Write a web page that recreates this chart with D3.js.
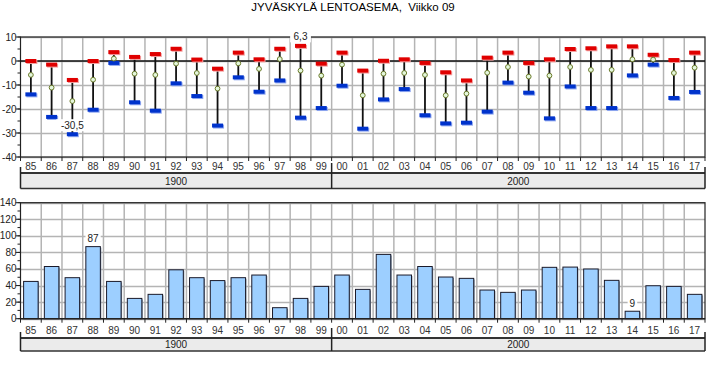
<!DOCTYPE html>
<html>
<head>
<meta charset="utf-8">
<script src="https://cdn.jsdelivr.net/npm/d3@7/dist/d3.min.js"></script>
<style>
html,body{margin:0;padding:0;background:#fff;}
svg{display:block;font-family:"Liberation Sans",Arial,sans-serif;}
</style>
</head>
<body>
<svg id="chart" width="728" height="368"></svg>
<script>
// ---- data ----
const title = "JYVÄSKYLÄ LENTOASEMA,  Viikko 09";
const years = ["85","86","87","88","89","90","91","92","93","94","95","96","97","98","99",
               "00","01","02","03","04","05","06","07","08","09","10","11","12","13","14","15","16","17"];
const groupLabels = ["1900","2000"];
const groupSizes = [15,18];
const tempMax = [0.0,-1.5,-7.9,0.0,3.7,1.7,2.9,5.1,0.6,-3.2,3.5,0.7,5.1,6.3,-1.1,
                 3.5,-4.0,0.1,0.7,-0.8,-4.7,-8.1,1.4,3.5,-0.8,0.7,5.0,5.3,6.1,6.1,2.6,0.4,3.5];
const tempMean = [-5.8,-11.1,-16.7,-7.8,1.0,-5.3,-5.8,-1.1,-5.0,-11.5,-1.0,-3.3,0.8,-4.0,-6.1,
                  -1.5,-14.3,-5.3,-5.0,-5.8,-14.3,-13.6,-4.9,-2.5,-6.5,-6.1,-2.5,-3.7,-3.7,0.7,0.6,-5.0,-2.8];
const tempMin = [-13.9,-23.3,-30.5,-20.3,-0.8,-17.2,-20.7,-9.3,-14.6,-26.9,-6.8,-12.8,-8.1,-23.6,-19.6,
                 -10.3,-28.2,-16.0,-11.7,-22.6,-26.0,-25.7,-21.1,-9.0,-13.2,-23.9,-10.6,-19.6,-19.6,-6.0,-1.5,-15.4,-12.9];
const precip = [45,63,49.5,87,45,24.5,29.4,59,49.5,46,49.5,52.7,13.3,24.5,39,
                52.7,35.4,77.6,52.7,63,50.3,48.7,34.6,31.8,34.6,62,62.3,60,46.3,9,39.8,39,29.4];
const tempTicks = [10,0,-10,-20,-30,-40];
const precipTicks = [0,20,40,60,80,100,120,140];

// ---- layout ----
const svg = d3.select("#chart");
const L = 20.5, R = 705;
const x = d3.scaleBand().domain(years).range([L, R]).padding(0);
const bw = x.bandwidth();
const yT = d3.scaleLinear().domain([-40, 10]).range([157, 37]);
const yP = d3.scaleLinear().domain([0, 140]).range([318.7, 202.7]);
const fmt = v => String(v).replace(".", ",");
const gridCol = "#b4b4b4";

svg.append("text").attr("x", 353).attr("y", 11).attr("text-anchor", "middle")
  .style("font-size", "11.5px").style("white-space", "pre").attr("fill", "#000").text(title);

function panel(y, ticks, minorStep, labelY, boxTop, boxBot, groupLineTop) {
  const g = svg.append("g");
  const [y0, y1] = y.range();
  // grid horizontal
  g.selectAll(".hg").data(ticks).join("line")
    .attr("x1", L).attr("x2", R).attr("y1", d => Math.round(y(d)) + 0.5).attr("y2", d => Math.round(y(d)) + 0.5)
    .attr("stroke", gridCol).attr("stroke-width", 1.5);
  // grid vertical
  g.selectAll(".vg").data(years.slice(1)).join("line")
    .attr("x1", d => x(d)).attr("x2", d => x(d)).attr("y1", y1).attr("y2", y0)
    .attr("stroke", gridCol).attr("stroke-width", 1.5);
  // frame
  g.append("rect").attr("x", L).attr("y", y1).attr("width", R - L).attr("height", y0 - y1)
    .attr("fill", "none").attr("stroke", "#222").attr("stroke-width", 1.2);
  // y ticks
  const dom = y.domain();
  const minor = d3.range(dom[0], dom[1] + 0.001, minorStep);
  g.selectAll(".mt").data(minor).join("line")
    .attr("x1", L - 3).attr("x2", L).attr("y1", d => y(d)).attr("y2", d => y(d))
    .attr("stroke", "#222").attr("stroke-width", 1);
  g.selectAll(".yl").data(ticks).join("text")
    .attr("x", L - 4).attr("y", d => y(d) + 3.5).attr("text-anchor", "end")
    .style("font-size", "10px").attr("fill", "#222").text(d => d);
  g.selectAll(".yt").data(ticks).join("line")
    .attr("x1", L - 5).attr("x2", L).attr("y1", d => y(d)).attr("y2", d => y(d))
    .attr("stroke", "#222").attr("stroke-width", 1);
  // x ticks
  g.selectAll(".xt").data(years).join("line")
    .attr("x1", d => x(d)).attr("x2", d => x(d)).attr("y1", y0).attr("y2", y0 + 4)
    .attr("stroke", "#222").attr("stroke-width", 1);
  g.append("line").attr("x1", R).attr("x2", R).attr("y1", y0).attr("y2", y0 + 4)
    .attr("stroke", "#222").attr("stroke-width", 1);
  // x labels
  g.selectAll(".xl").data(years).join("text")
    .attr("x", d => x(d) + bw / 2).attr("y", labelY).attr("text-anchor", "middle")
    .style("font-size", "10px").attr("fill", "#333").text(d => d);
  // group boxes
  g.append("rect").attr("x", L).attr("y", boxTop).attr("width", R - L).attr("height", boxBot - boxTop)
    .attr("fill", "#ebebeb");
  g.append("line").attr("x1", L).attr("x2", R).attr("y1", boxTop).attr("y2", boxTop)
    .attr("stroke", "#333").attr("stroke-width", 2);
  g.append("line").attr("x1", L).attr("x2", R).attr("y1", boxBot).attr("y2", boxBot)
    .attr("stroke", "#333").attr("stroke-width", 1.5);
  let start = 0;
  const bounds = [];
  groupSizes.forEach((n, i) => {
    const xs = x(years[start]);
    const xe = start + n < years.length ? x(years[start + n]) : R;
    bounds.push(xs);
    g.append("text").attr("x", (xs + xe) / 2).attr("y", boxBot - 3.5).attr("text-anchor", "middle")
      .style("font-size", "10px").attr("fill", "#222").text(groupLabels[i]);
    start += n;
  });
  bounds.push(R);
  g.selectAll(".gl").data(bounds).join("line")
    .attr("x1", d => d).attr("x2", d => d)
    .attr("y1", (d, i) => (i === 0 || i === bounds.length - 1) ? groupLineTop + 4 : groupLineTop)
    .attr("y2", boxBot)
    .attr("stroke", "#222").attr("stroke-width", 1.5);
  return g;
}

// ---- top panel: temperatures ----
const gT = panel(yT, tempTicks, 5, 170, 173, 188.5, 163);
gT.append("line").attr("x1", L).attr("x2", R).attr("y1", yT(0)).attr("y2", yT(0))
  .attr("stroke", "#111").attr("stroke-width", 1.5);
const cx = i => x(years[i]) + bw / 2;
const idx = d3.range(years.length);
gT.selectAll(".rng").data(idx).join("line")
  .attr("x1", cx).attr("x2", cx).attr("y1", i => yT(tempMax[i])).attr("y2", i => yT(tempMin[i]))
  .attr("stroke", "#111").attr("stroke-width", 1.8);
const mw = 11, mh = 4;
// shadows
gT.selectAll(".maxs").data(idx).join("rect")
  .attr("x", i => cx(i) - mw / 2 + 1).attr("y", i => yT(tempMax[i]) - mh / 2 + 1)
  .attr("width", mw).attr("height", mh).attr("fill", "#f4a0a0");
gT.selectAll(".mins").data(idx).join("rect")
  .attr("x", i => cx(i) - mw / 2 + 1).attr("y", i => yT(tempMin[i]) - mh / 2 + 1)
  .attr("width", mw).attr("height", mh).attr("fill", "#90a8f0");
gT.selectAll(".max").data(idx).join("rect")
  .attr("x", i => cx(i) - mw / 2).attr("y", i => yT(tempMax[i]) - mh / 2)
  .attr("width", mw).attr("height", mh).attr("fill", "#e00000");
gT.selectAll(".min").data(idx).join("rect")
  .attr("x", i => cx(i) - mw / 2).attr("y", i => yT(tempMin[i]) - mh / 2)
  .attr("width", mw).attr("height", mh).attr("fill", "#0033cc");
gT.selectAll(".mean").data(idx).join("circle")
  .attr("cx", cx).attr("cy", i => yT(tempMean[i])).attr("r", 2.4)
  .attr("fill", "#e4f7dc").attr("stroke", "#6b7a2a").attr("stroke-width", 1);

function tag(g, xc, yc, txt) {
  const w = txt.length * 5.6 + 4;
  g.append("rect").attr("x", xc - w / 2).attr("y", yc - 6).attr("width", w).attr("height", 12).attr("fill", "#fff");
  g.append("text").attr("x", xc).attr("y", yc + 3.5).attr("text-anchor", "middle")
    .style("font-size", "10px").attr("fill", "#222").text(txt);
}
const iLo = d3.minIndex(tempMin), iHi = d3.maxIndex(tempMax);
tag(gT, cx(iLo), yT(tempMin[iLo]) - 9, fmt(tempMin[iLo]));
tag(gT, cx(iHi), yT(tempMax[iHi]) - 9.5, fmt(tempMax[iHi]));

// ---- bottom panel: precipitation ----
const gP = panel(yP, precipTicks, 10, 333.5, 338, 351, 328);
const barW = bw * 0.7;
gP.selectAll(".bars").data(idx).join("rect")
  .attr("x", i => cx(i) - barW / 2 + 1).attr("y", i => yP(precip[i]) + 1)
  .attr("width", barW).attr("height", i => yP(0) - yP(precip[i]) - 1)
  .attr("fill", "#8a9aaa");
gP.selectAll(".bar").data(idx).join("rect")
  .attr("x", i => cx(i) - barW / 2).attr("y", i => yP(precip[i]))
  .attr("width", barW).attr("height", i => yP(0) - yP(precip[i]))
  .attr("fill", "#9dcfff").attr("stroke", "#1a1a2a").attr("stroke-width", 1);
gP.append("line").attr("x1", L).attr("x2", R).attr("y1", yP(0)).attr("y2", yP(0))
  .attr("stroke", "#222").attr("stroke-width", 1.2);
const pHi = d3.maxIndex(precip), pLo = d3.minIndex(precip);
tag(gP, cx(pHi), yP(precip[pHi]) - 8, fmt(precip[pHi]));
tag(gP, cx(pLo), yP(precip[pLo]) - 8, fmt(precip[pLo]));
</script>
</body>
</html>
